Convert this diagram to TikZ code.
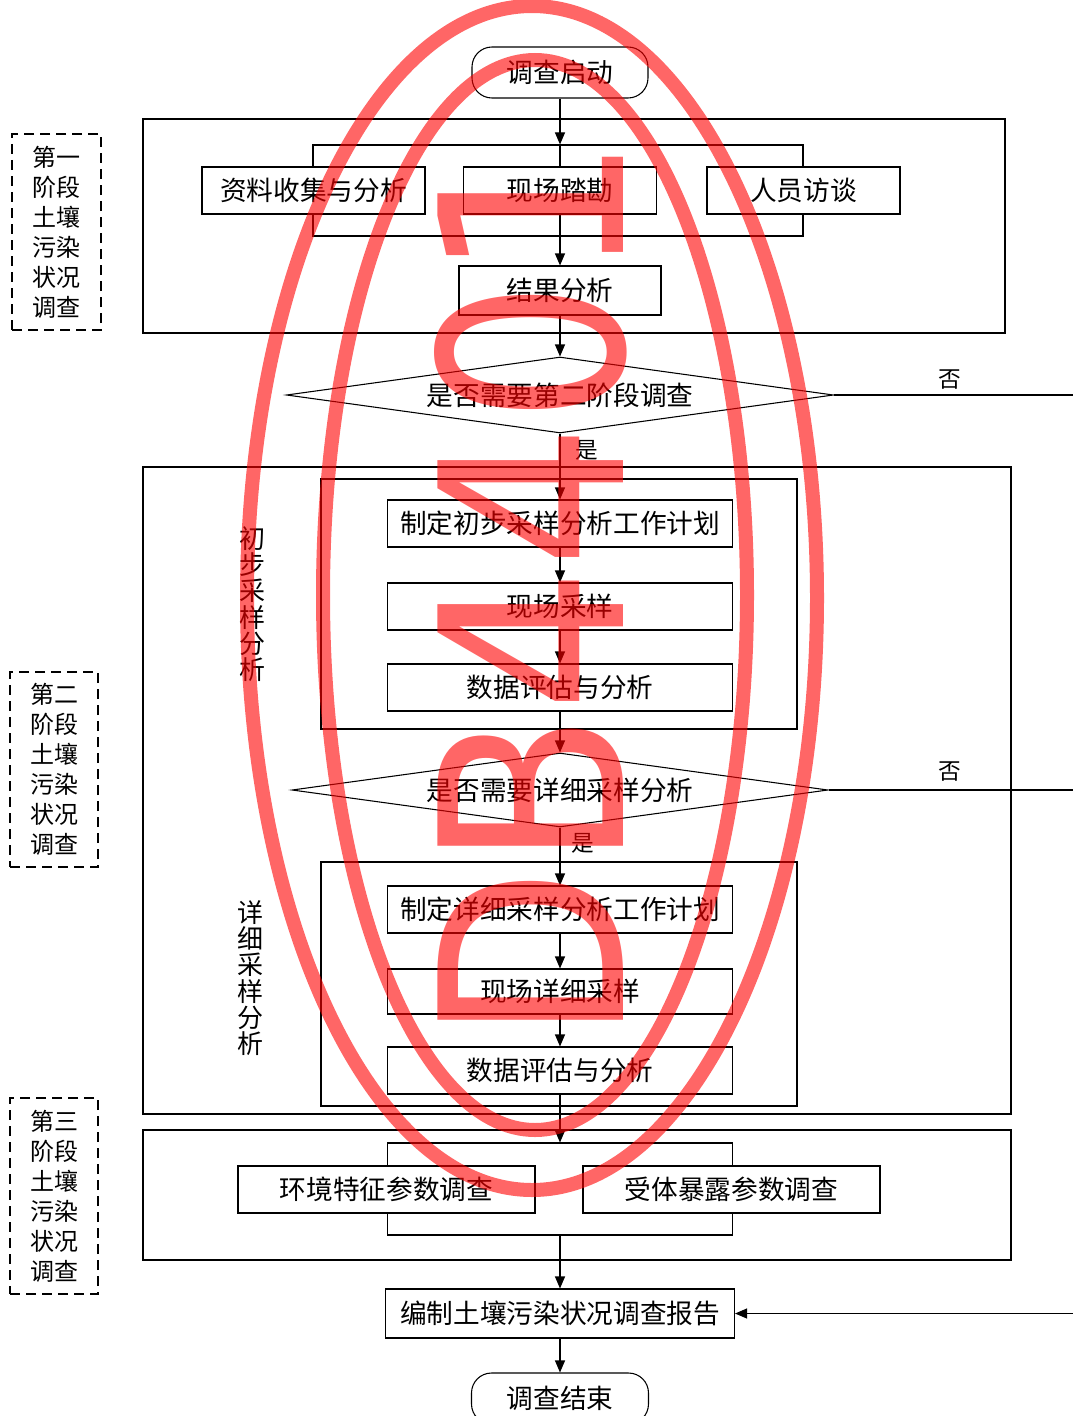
\documentclass[tikz,border=0pt]{standalone}
\usepackage{fontspec}
\newfontfamily\cjk{Noto Sans CJK SC}
\newfontfamily\dbfont{DejaVu Sans}
\usetikzlibrary{arrows.meta, shapes.geometric}
\begin{document}
\begin{tikzpicture}[x=0.75pt, y=-0.75pt,
  line width=0.8pt,
  bx/.style={draw, rectangle, fill=white, inner sep=0pt, font=\cjk\fontsize{20}{24}\selectfont},
  frm/.style={draw, rectangle, inner sep=0pt},
  dbx/.style={draw, rectangle, dash pattern=on 7.5pt off 4.5pt, inner sep=0pt, align=center, font=\cjk\fontsize{18}{22.5}\selectfont},
  arr/.style={-{Triangle[length=9pt,width=7.5pt]}},
  yn/.style={font=\cjk\fontsize{17}{20}\selectfont, inner sep=0pt},
  vlab/.style={align=center, inner sep=0pt, font=\cjk\fontsize{19.5}{19.75}\selectfont},
  dec/.style={draw, diamond, aspect=7.2, fill=white, inner sep=0pt, font=\cjk\fontsize{20}{24}\selectfont},
]
\useasboundingbox (0,0) rectangle (1073,1416);

% ---- left phase labels
\node[dbx, minimum width=66.75pt, minimum height=147pt] (L1) at (56.5,232) {第一\\阶段\\土壤\\污染\\状况\\调查};
\node[dbx, minimum width=66pt, minimum height=146.25pt] (L2) at (54,769.5) {第二\\阶段\\土壤\\污染\\状况\\调查};
\node[dbx, minimum width=66pt, minimum height=147pt] (L3) at (54,1196) {第三\\阶段\\土壤\\污染\\状况\\调查};

% ---- start
\node[bx, rounded corners=15pt, minimum width=132pt, minimum height=38.25pt] (st) at (560,72.5) {调查启动};

% ---- phase 1
\node[frm, minimum width=646.5pt, minimum height=160.5pt] (ph1) at (574,226) {};
\node[frm, minimum width=367.5pt, minimum height=68.25pt] (fr1) at (558,190.5) {};
\node[bx, minimum width=167.25pt, minimum height=35.25pt] (b11) at (313.5,190.5) {资料收集与分析};
\node[bx, minimum width=144.75pt, minimum height=35.25pt] (b12) at (560,190.5) {现场踏勘};
\node[bx, minimum width=144.75pt, minimum height=35.25pt] (b13) at (803.5,190.5) {人员访谈};
\node[bx, minimum width=151.5pt, minimum height=36.75pt] (b14) at (560,290.5) {结果分析};

% ---- decision 1
\node[dec, minimum width=410.25pt, minimum height=57pt] (d1) at (560,395) {是否需要第二阶段调查};
\coordinate (e1) at (1073,395);
\node[yn] (no1) at (950,380) {否};
\node[yn] (yes1) at (587,450) {是};

% ---- phase 2
\node[frm, minimum width=651pt, minimum height=485.25pt] (ph2) at (577,790.5) {};
\node[frm, minimum width=357pt, minimum height=187.5pt] (frA) at (559,604) {};
\node[bx, minimum width=258.75pt, minimum height=35.25pt] (b21) at (560,523.5) {制定初步采样分析工作计划};
\node[bx, minimum width=258.75pt, minimum height=35.25pt] (b22) at (560,606.5) {现场采样};
\node[bx, minimum width=258.75pt, minimum height=35.25pt] (b23) at (560,687.5) {数据评估与分析};
\node[vlab] (labA) at (252,604) {初\\步\\采\\样\\分\\析};

\node[dec, aspect=7.24, minimum width=402pt, minimum height=55.5pt] (d2) at (560,790) {是否需要详细采样分析};
\coordinate (e2) at (1073,790);
\node[yn] (no2) at (950,772) {否};
\node[yn] (yes2) at (583,843) {是};

\node[frm, minimum width=357pt, minimum height=183pt] (frB) at (559,984) {};
\node[bx, minimum width=258.75pt, minimum height=35.25pt] (b31) at (560,909.5) {制定详细采样分析工作计划};
\node[bx, minimum width=258.75pt, minimum height=33.75pt] (b32) at (560,991.5) {现场详细采样};
\node[bx, minimum width=258.75pt, minimum height=35.25pt] (b33) at (560,1070.5) {数据评估与分析};
\node[vlab] (labB) at (250,978) {详\\细\\采\\样\\分\\析};

% ---- phase 3
\node[frm, minimum width=651pt, minimum height=97.5pt] (ph3) at (577,1195) {};
\node[frm, minimum width=258.75pt, minimum height=69pt] (frC) at (560,1189) {};
\node[bx, minimum width=222.75pt, minimum height=35.25pt] (b41) at (386.5,1189.5) {环境特征参数调查};
\node[bx, minimum width=222.75pt, minimum height=35.25pt] (b42) at (731.5,1189.5) {受体暴露参数调查};

% ---- report and end
\node[bx, minimum width=261.75pt, minimum height=36.75pt] (rep) at (560,1313.5) {编制土壤污染状况调查报告};
\coordinate (e3) at (1073,1313.5);
\node[bx, rounded corners=15pt, minimum width=132.75pt, minimum height=38.25pt] (en) at (560,1398.5) {调查结束};

% ---- connectors
\draw[arr] (st.south) -- (st.south |- fr1.north);
\draw (st.south |- fr1.north) -- (b12.north);
\draw[arr] (b12.south) -- (b14.north);
\draw[arr] (b14.south) -- (d1.north);
\draw (d1.east) -- (e1);
\draw[arr] (d1.south) -- (b21.north);
\draw[arr] (b21.south) -- (b22.north);
\draw[arr] (b22.south) -- (b23.north);
\draw[arr] (b23.south) -- (d2.north);
\draw (d2.east) -- (e2);
\draw[arr] (d2.south) -- (b31.north);
\draw[arr] (b31.south) -- (b32.north);
\draw[arr] (b32.south) -- (b33.north);
\draw[arr] (b33.south) -- (frC.north);
\draw[arr] (frC.south) -- (rep.north);
\draw[arr] (e3) -- (rep.east);
\draw[arr] (rep.south) -- (en.north);

% ---- red stamp overlay
\begin{scope}[transparency group, opacity=0.6]
\draw[red, line width=10.5pt] (532,598) ellipse [x radius=285, y radius=592];
\draw[red, line width=10.5pt] (535,595) ellipse [x radius=212, y radius=535];
\node[text=red, font=\dbfont\fontsize{191}{191}\selectfont, rotate=90, xscale=0.89, anchor=base west, inner sep=0pt] (db) at (623,1043) {DB4401};
\end{scope}
\end{tikzpicture}
\end{document}
